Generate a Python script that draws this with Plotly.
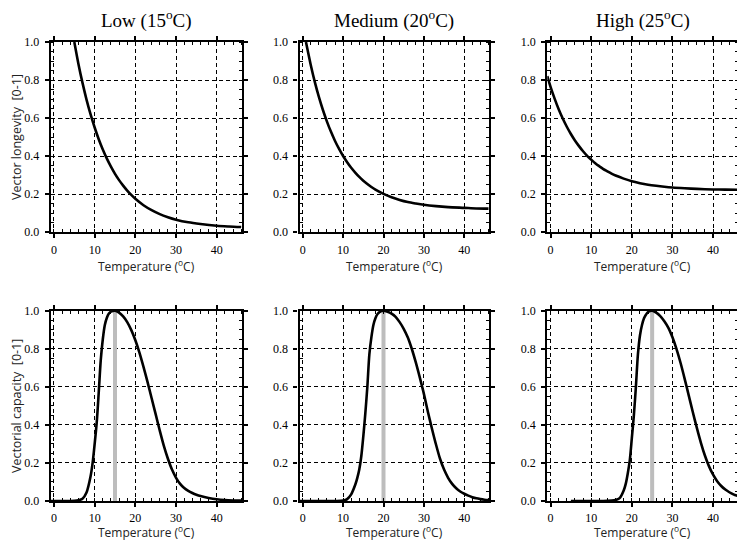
import plotly.graph_objects as go

# ---------------- data ----------------
col_titles = ["Low (15<sup>o</sup>C)", "Medium (20<sup>o</sup>C)", "High (25<sup>o</sup>C)"]
opt_temps = [15, 20, 25]
x_title = "Temperature (<sup>o</sup>C)"
y_titles = ["Vector longevity  [0-1]", "Vectorial capacity  [0-1]"]
x_ticks = [0, 10, 20, 30, 40]
y_ticks = [0.0, 0.2, 0.4, 0.6, 0.8, 1.0]
y_ticklabels = ["0.0", "0.2", "0.4", "0.6", "0.8", "1.0"]

# Vector longevity
low_long_t = [5, 6, 7, 8, 9, 10, 11, 12, 13, 14, 15, 16, 17, 18, 19, 20, 22, 24, 26, 28, 30, 33, 36, 40, 43, 46]
low_long_v = [1.0, 0.886, 0.786, 0.697, 0.619, 0.550, 0.488, 0.434, 0.386, 0.344, 0.306, 0.273, 0.244,
              0.218, 0.195, 0.175, 0.141, 0.115, 0.094, 0.078, 0.065, 0.051, 0.042, 0.033, 0.029, 0.026]

med_long_t = [0.8, 2, 3, 4, 5, 6, 7, 8, 9, 10, 11, 12, 13, 14, 15, 16, 17, 18, 20, 22, 24, 26, 28, 30, 33, 36, 40, 43, 46]
med_long_v = [1.0, 0.878, 0.789, 0.711, 0.642, 0.581, 0.527, 0.479, 0.437, 0.400, 0.367, 0.338, 0.313, 0.290,
              0.270, 0.253, 0.237, 0.223, 0.201, 0.183, 0.169, 0.158, 0.150, 0.143, 0.136, 0.131, 0.127, 0.124, 0.123]

high_long_t = [-0.8, 0, 1, 2, 3, 4, 5, 6, 7, 8, 9, 10, 11, 12, 13, 14, 15, 16, 18, 20, 22, 24, 26, 28, 30, 33, 36, 40, 43, 46]
high_long_v = [0.82, 0.764, 0.702, 0.646, 0.597, 0.554, 0.516, 0.482, 0.452, 0.425, 0.401, 0.381, 0.362, 0.346,
               0.331, 0.319, 0.307, 0.297, 0.281, 0.267, 0.257, 0.249, 0.243, 0.238, 0.234, 0.230, 0.227, 0.224, 0.223, 0.222]

# Vectorial capacity
low_cap_t = [-0.8, 2, 4, 5, 6, 7, 8, 9, 9.5, 10, 10.5, 11, 11.5, 12, 12.5, 13, 13.5, 14, 15, 16, 17, 18, 19, 20,
             21, 22, 23, 24, 25, 26, 27, 28, 29, 30, 31, 32, 33, 34, 35, 36, 38, 40, 42, 44, 46]
low_cap_v = [0.0, 0.0, 0.0, 0.001, 0.004, 0.012, 0.045, 0.13, 0.2, 0.3, 0.41, 0.57, 0.74, 0.85, 0.925, 0.963,
             0.985, 0.995, 1.0, 0.99, 0.97, 0.94, 0.898, 0.845, 0.78, 0.705, 0.625, 0.54, 0.455, 0.37, 0.29, 0.222,
             0.165, 0.122, 0.09, 0.068, 0.053, 0.042, 0.033, 0.026, 0.016, 0.009, 0.005, 0.003, 0.002]

med_cap_t = [-0.8, 5, 8, 10, 11, 12, 13, 13.5, 14, 14.5, 15, 15.5, 16, 16.5, 17, 17.5, 18, 18.5, 19, 20, 21, 22,
             23, 24, 25, 26, 27, 28, 29, 30, 31, 32, 33, 34, 35, 36, 37, 38, 39, 40, 41, 42, 43, 44, 45, 46]
med_cap_v = [0.0, 0.0, 0.0, 0.002, 0.01, 0.035, 0.085, 0.12, 0.165, 0.235, 0.34, 0.46, 0.6, 0.77, 0.86, 0.925,
             0.96, 0.982, 0.993, 1.0, 0.995, 0.985, 0.968, 0.94, 0.905, 0.86, 0.8, 0.728, 0.648, 0.563, 0.468,
             0.38, 0.297, 0.222, 0.165, 0.122, 0.09, 0.067, 0.05, 0.038, 0.028, 0.02, 0.014, 0.01, 0.007, 0.005]

high_cap_t = [5, 8, 10, 12, 14, 15, 16, 17, 18, 18.5, 19, 19.5, 20, 20.5, 21, 21.5, 22, 22.5, 23, 23.5, 24, 25,
              26, 27, 28, 29, 30, 31, 32, 33, 34, 35, 36, 37, 38, 39, 40, 41, 42, 43, 44, 45, 46]
high_cap_v = [0.0, 0.0, 0.0, 0.0, 0.001, 0.002, 0.005, 0.015, 0.055, 0.09, 0.145, 0.215, 0.33, 0.45, 0.6, 0.77,
              0.87, 0.925, 0.96, 0.98, 0.993, 1.0, 0.99, 0.972, 0.945, 0.91, 0.86, 0.798, 0.725, 0.642, 0.555,
              0.468, 0.384, 0.306, 0.238, 0.182, 0.138, 0.104, 0.079, 0.06, 0.046, 0.035, 0.027]

longevity = [(low_long_t, low_long_v), (med_long_t, med_long_v), (high_long_t, high_long_v)]
capacity = [(low_cap_t, low_cap_v), (med_cap_t, med_cap_v), (high_cap_t, high_cap_v)]

# ---------------- layout ----------------
OFF = 8  # the page body has an 8px margin
W, H = 745 - OFF, 541 - OFF
col_px = [(50.7, 242.0), (299.5, 489.3), (547.3, 738.3)]
row_px = [(42.0, 232.0), (310.7, 501.0)]  # top, bottom in page pixels from top
xtitle_y_px = [265.5, 532.0]              # page-pixel centre of the x-axis titles

tick_font = dict(family="Liberation Serif", size=12, color="black")
title_font = dict(family="Open Sans", size=12, color="#222")
grid_dash = "4px,3px"

fig = go.Figure()
annotations = []

for r in range(2):
    for c in range(3):
        idx = r * 3 + c + 1
        xa = "x" if idx == 1 else f"x{idx}"
        ya = "y" if idx == 1 else f"y{idx}"
        xkey = "xaxis" if idx == 1 else f"xaxis{idx}"
        ykey = "yaxis" if idx == 1 else f"yaxis{idx}"

        if r == 1:
            fig.add_trace(go.Scatter(x=[opt_temps[c], opt_temps[c]], y=[0, 1], mode="lines",
                                     line=dict(color="#bdbdbd", width=4), xaxis=xa, yaxis=ya,
                                     showlegend=False, hoverinfo="skip"))
            t, v = capacity[c]
        else:
            t, v = longevity[c]
        fig.add_trace(go.Scatter(x=t, y=v, mode="lines",
                                 line=dict(color="black", width=2.6, shape="spline", smoothing=0.8),
                                 xaxis=xa, yaxis=ya, showlegend=False, cliponaxis=True))

        x0, x1 = (p - OFF for p in col_px[c])
        top, bot = (p - OFF for p in row_px[r])
        xdict = dict(
            domain=[x0 / W, x1 / W], anchor=ya, range=[-0.8, 46.2], automargin=False,
            tickmode="array", tickvals=x_ticks, ticks="outside", ticklen=4, tickwidth=1.5,
            tickcolor="black", tickfont=tick_font, ticklabelstandoff=1 if r == 0 else 0,
            minor=dict(dtick=2, ticks="inside", ticklen=3, tickcolor="black", tickwidth=1, showgrid=False),
            showline=True, linecolor="black", linewidth=2.2, mirror="allticks",
            showgrid=True, gridcolor="black", gridwidth=0.9, griddash=grid_dash, zeroline=False,
        )
        ydict = dict(
            domain=[1 - bot / H, 1 - top / H], anchor=xa, range=[0, 1], automargin=False,
            tickmode="array", tickvals=y_ticks, ticktext=y_ticklabels, ticks="outside", ticklen=4,
            tickwidth=1.5, tickcolor="black", tickfont=tick_font, ticklabelstandoff=3,
            minor=dict(dtick=0.05, ticks="inside", ticklen=3, tickcolor="black", tickwidth=1, showgrid=False),
            showline=True, linecolor="black", linewidth=2.2, mirror="allticks",
            showgrid=True, gridcolor="black", gridwidth=0.9, griddash=grid_dash, zeroline=False,
        )
        if c == 0:
            ydict["title"] = dict(text=y_titles[r], font=dict(family="Open Sans", size=12.5, color="#222"),
                                  standoff=5)
        fig.layout[xkey] = xdict
        fig.layout[ykey] = ydict

        annotations.append(dict(text=x_title, x=(x0 + x1) / 2 / W, y=1 - (xtitle_y_px[r] - OFF) / H,
                                xref="paper", yref="paper", showarrow=False, font=title_font,
                                xanchor="center", yanchor="middle"))

for c in range(3):
    x0, x1 = (p - OFF for p in col_px[c])
    annotations.append(dict(text=col_titles[c], x=(x0 + x1) / 2 / W, y=1 - (20 - OFF) / H,
                            xref="paper", yref="paper", showarrow=False,
                            font=dict(family="Liberation Serif", size=19, color="black"),
                            xanchor="center", yanchor="middle"))

fig.update_layout(width=W, height=H, margin=dict(l=0, r=0, t=0, b=0, autoexpand=False),
                  paper_bgcolor="white", plot_bgcolor="white", annotations=annotations)

fig.write_html("out.html")
